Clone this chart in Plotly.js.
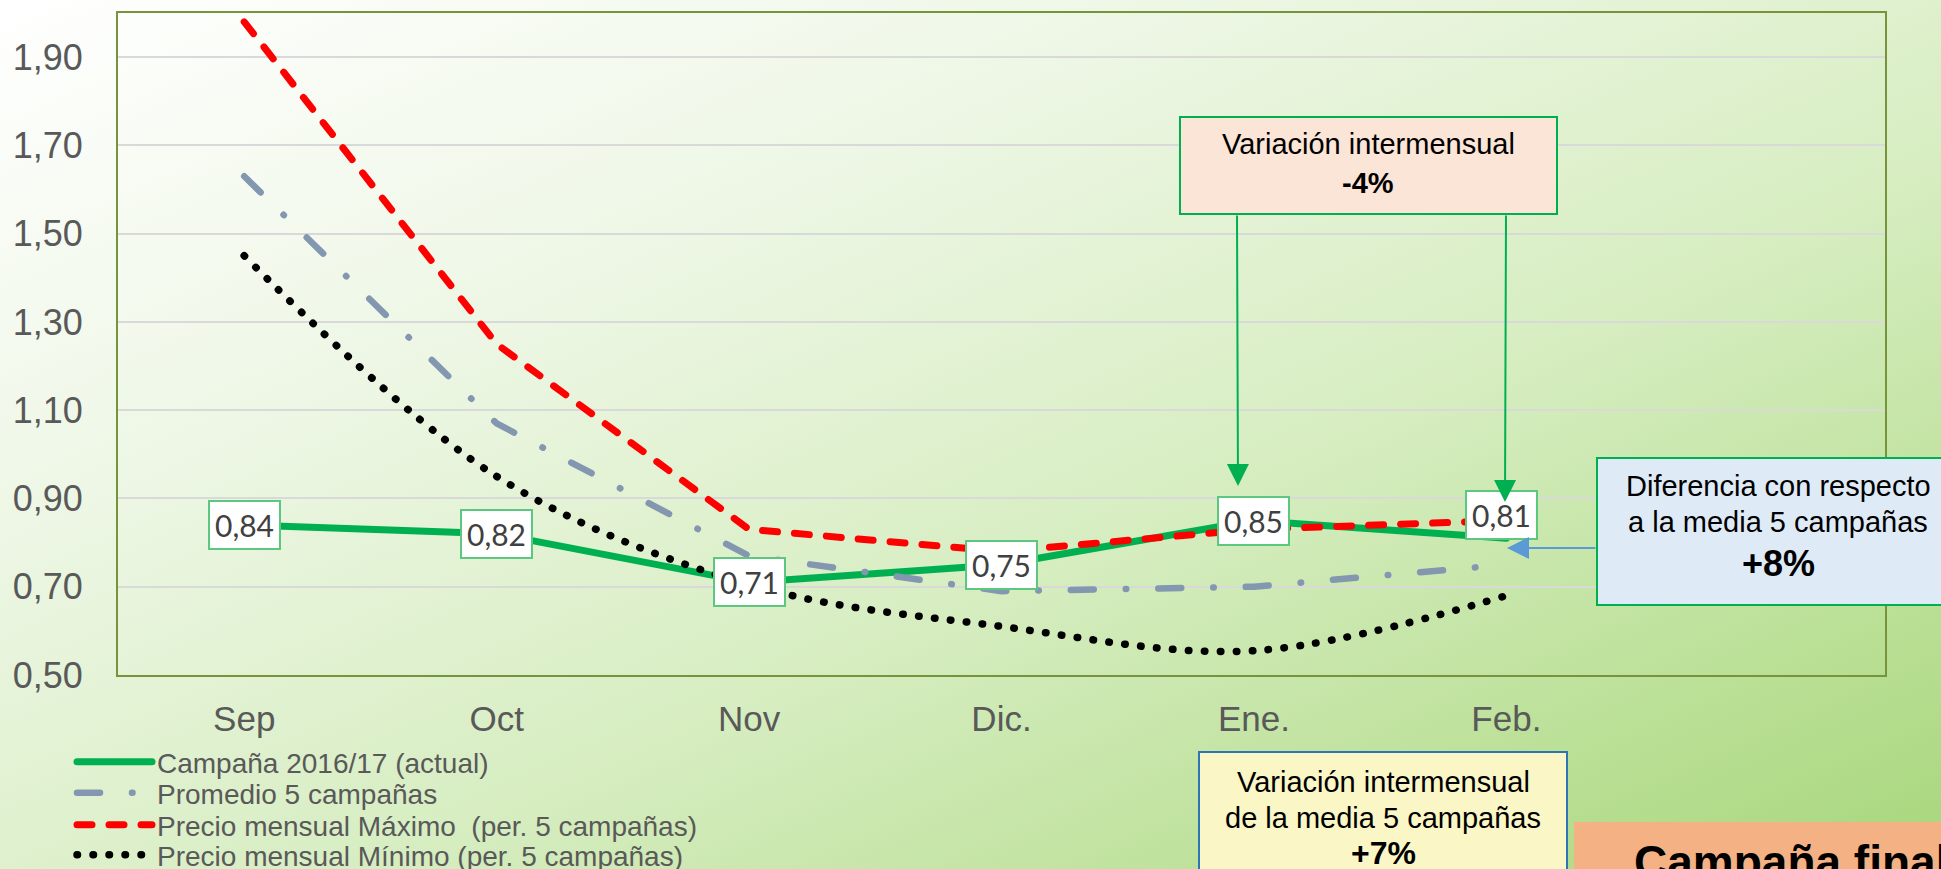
<!DOCTYPE html>
<html>
<head>
<meta charset="utf-8">
<script src="https://cdn.plot.ly/plotly-3.0.1.min.js"></script>
<style>
html, body { margin: 0; padding: 0; }
#chart {
  width: 1941px; height: 869px;
  background: linear-gradient(to bottom right, #ffffff 0%, #eef7e6 30%, #d6edc0 60%, #b9df94 85%, #a8d67c 100%);
}
#chart path.js-line { stroke-linecap: round; }
</style>
</head>
<body>
<div id="chart"></div>
<script>
// ---- data ----
const months = ['Sep', 'Oct', 'Nov', 'Dic.', 'Ene.', 'Feb.'];
const seriesNames = [
  'Campaña 2016/17 (actual)',
  'Promedio 5 campañas',
  'Precio mensual Máximo  (per. 5 campañas)',
  'Precio mensual Mínimo (per. 5 campañas)'
];
const actual2016 = [0.84, 0.82, 0.71, 0.75, 0.85, 0.81];
const promedio5 = [1.63, 1.07, 0.77, 0.69, 0.70, 0.75];
const maximo5 = [1.98, 1.25, 0.83, 0.78, 0.83, 0.85];
const minimo5 = [1.45, 0.95, 0.705, 0.61, 0.555, 0.68];
const yTicks = [0.5, 0.7, 0.9, 1.1, 1.3, 1.5, 1.7, 1.9];

// ---- geometry helpers (pixel -> paper) ----
const W = 1941, H = 869;
const M = { l: 118, r: 56, t: 13, b: 194, autoexpand: false };
const PW = W - M.l - M.r, PH = H - M.t - M.b;
const px = p => (p - M.l) / PW;
const py = p => (H - M.b - p) / PH;

const fmt = v => v.toFixed(2).replace('.', ',');
const AR = 'Liberation Sans, Arial, sans-serif';

const traces = [
  { x: months, y: actual2016, name: seriesNames[0], type: 'scatter', mode: 'lines', legend: 'legend',
    line: { color: '#00B050', width: 7 } },
  { x: months, y: promedio5, name: seriesNames[1], type: 'scatter', mode: 'lines', legend: 'legend2',
    line: { color: '#8497B0', width: 6.5, dash: '23px,32px,0.5px,32px' } },
  { x: months, y: maximo5, name: seriesNames[2], type: 'scatter', mode: 'lines', legend: 'legend3',
    line: { color: '#FF0000', width: 7, dash: '15px,17px' } },
  { x: months, y: minimo5, name: seriesNames[3], type: 'scatter', mode: 'lines', legend: 'legend4',
    line: { color: '#000000', width: 7.5, dash: '0.5px,15.5px', shape: 'spline', smoothing: 1 } }
];

const annotations = actual2016.map((v, i) => ({
  x: months[i], y: v, xref: 'x', yref: 'y', text: fmt(v), showarrow: false,
  xanchor: 'center', yanchor: 'middle',
  bgcolor: '#ffffff', bordercolor: '#5CC77F', borderwidth: 2, borderpad: 5,
  font: { family: 'Lato, Liberation Sans, sans-serif', size: 30, color: '#404040' },
  xshift: i === 5 ? -5 : 0, yshift: i === 5 ? 23 : 0
}));

// arrows
annotations.push(
  { xref: 'paper', yref: 'paper', x: px(1238), y: py(486), ax: -1, ay: -272, text: '',
    showarrow: true, arrowhead: 2, arrowsize: 2.2, arrowwidth: 2, arrowcolor: '#00B050' },
  { xref: 'paper', yref: 'paper', x: px(1505), y: py(502), ax: 1, ay: -288, text: '',
    showarrow: true, arrowhead: 2, arrowsize: 2.2, arrowwidth: 2, arrowcolor: '#00B050' },
  { xref: 'paper', yref: 'paper', x: px(1507), y: py(548), ax: 90, ay: 0, text: '',
    showarrow: true, arrowhead: 2, arrowsize: 2.2, arrowwidth: 2, arrowcolor: '#5B9BD5' }
);

// box texts, one annotation per line
const boxText = (x, y, text, size, extra) => Object.assign({
  xref: 'paper', yref: 'paper', x: px(x), y: py(y), showarrow: false,
  xanchor: 'center', yanchor: 'middle', text: text,
  font: { family: AR, size: size || 29, color: '#000000' }
}, extra || {});
annotations.push(
  boxText(1368, 144, 'Variación intermensual'),
  boxText(1368, 183, '<b>-4%</b>'),
  boxText(1778, 486, 'Diferencia con respecto'),
  boxText(1778, 522, 'a la media 5 campañas'),
  boxText(1778, 563, '<b>+8%</b>', 36),
  boxText(1383, 782, 'Variación intermensual'),
  boxText(1383, 818, 'de la media 5 campañas'),
  boxText(1383, 853, '<b>+7%</b>', 32),
  boxText(1632, 862, '<b>Campaña finalizada</b>', 46, { xanchor: 'left' })
);

const shapes = [
  { type: 'rect', xref: 'paper', yref: 'paper', x0: px(1180), x1: px(1557), y0: py(117), y1: py(214),
    fillcolor: '#FBE5D6', line: { color: '#00B050', width: 2 }, layer: 'above' },
  { type: 'rect', xref: 'paper', yref: 'paper', x0: px(1597), x1: px(1965), y0: py(458), y1: py(605),
    fillcolor: '#DEEBF7', line: { color: '#00B050', width: 2 }, layer: 'above' },
  { type: 'rect', xref: 'paper', yref: 'paper', x0: px(1199), x1: px(1567), y0: py(752), y1: py(930),
    fillcolor: '#FAF6C6', line: { color: '#2E75B6', width: 2 }, layer: 'above' },
  { type: 'rect', xref: 'paper', yref: 'paper', x0: px(1574), x1: px(2050), y0: py(822), y1: py(930),
    fillcolor: '#F4B183', line: { width: 0 }, layer: 'above' }
];

const legendBase = y => ({
  x: px(72), y: py(y), xanchor: 'left', yanchor: 'middle',
  orientation: 'v', bgcolor: 'rgba(0,0,0,0)', borderwidth: 0,
  font: { family: AR, size: 28, color: '#595959' },
  itemwidth: 75, tracegroupgap: 0
});

const layout = {
  width: W, height: H,
  margin: M,
  paper_bgcolor: 'rgba(0,0,0,0)', plot_bgcolor: 'rgba(0,0,0,0)',
  separators: ',.',
  font: { family: AR, color: '#595959' },
  xaxis: {
    type: 'category', range: [-0.5, 6.5], showgrid: false,
    showline: true, mirror: true, linecolor: '#77933C', linewidth: 2,
    ticks: '', tickfont: { size: 35, color: '#595959' }, ticklabelstandoff: 12,
    zeroline: false, fixedrange: true
  },
  yaxis: {
    range: [0.5, 2.0], tickvals: yTicks, tickformat: '.2f',
    showgrid: true, gridcolor: '#D9D9D9', gridwidth: 2,
    showline: true, mirror: true, linecolor: '#77933C', linewidth: 2,
    ticks: '', tickfont: { size: 36, color: '#595959' }, ticklabelstandoff: 26,
    zeroline: false, fixedrange: true
  },
  showlegend: true,
  legend: legendBase(762),
  legend2: legendBase(793),
  legend3: legendBase(825),
  legend4: legendBase(855),
  annotations: annotations,
  shapes: shapes
};

Plotly.newPlot('chart', traces, layout, { displayModeBar: false, staticPlot: true });
</script>
</body>
</html>
